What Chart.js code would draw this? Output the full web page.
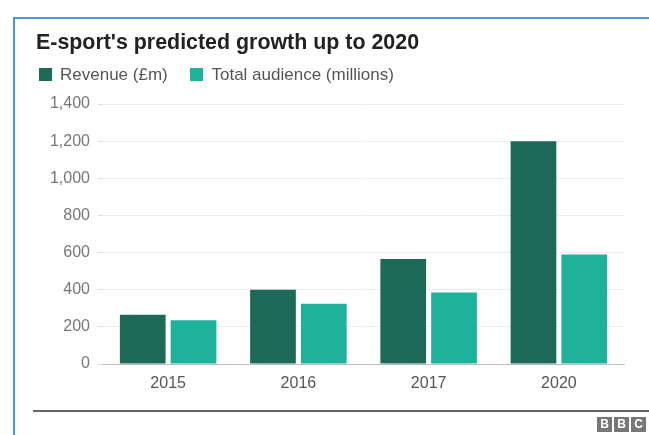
<!DOCTYPE html>
<html lang="en">
<head>
    <meta charset="UTF-8">
    <title>E-sport's predicted growth up to 2020</title>
    <script src="https://cdn.jsdelivr.net/npm/chart.js"></script>
    <style>
        html, body {
            margin: 0;
            padding: 0;
            width: 649px;
            height: 435px;
            overflow: hidden;
            background: #fff;
            font-family: 'Liberation Sans', Arial, sans-serif;
        }
        .frame {
            position: absolute;
            left: 13px;
            top: 17px;
            width: 700px;
            height: 500px;
            border-left: 2px solid #4a97d8;
            border-top: 2px solid #4a97d8;
        }
        .title {
            position: absolute;
            left: 36px;
            top: 30px;
            font-size: 21.4px;
            font-weight: bold;
            color: #222;
            white-space: nowrap;
        }
        .legend {
            position: absolute;
            left: 39px;
            top: 65px;
            font-size: 17px;
            color: #555;
            white-space: nowrap;
        }
        .legend span.box {
            display: inline-block;
            width: 13px;
            height: 13px;
            margin-right: 8px;
            vertical-align: -1px;
        }
        .legend .item { margin-right: 18px; }
        .rule {
            position: absolute;
            left: 33px;
            top: 410px;
            width: 620px;
            height: 2px;
            background: #666;
        }
        .bbc {
            position: absolute;
            left: 597px;
            top: 414px;
        }
        .bbc span {
            display: inline-block;
            width: 15px;
            height: 15px;
            margin-right: 2px;
            background: #777;
            color: #fff;
            font-size: 12px;
            font-weight: bold;
            text-align: center;
            line-height: 15px;
        }
        #chart {
            position: absolute;
            left: 0;
            top: 0;
        }
    </style>
</head>
<body>
    <div class="frame"></div>
    <canvas id="chart" width="649" height="435"></canvas>
    <div class="title">E-sport's predicted growth up to 2020</div>
    <div class="legend">
        <span class="item"><span class="box" id="box0"></span>Revenue (£m)</span>
        <span class="item"><span class="box" id="box1"></span>Total audience (millions)</span>
    </div>
    <div class="rule"></div>
    <div class="bbc"><span>B</span><span>B</span><span>C</span></div>

    <script>
        // data
        const years = ['2015', '2016', '2017', '2020'];
        const revenue = [265, 400, 565, 1200];
        const audience = [235, 325, 385, 590];
        const seriesNames = ['Revenue (£m)', 'Total audience (millions)'];
        const colours = ['#1e6a58', '#1fb29b'];

        document.getElementById('box0').style.background = colours[0];
        document.getElementById('box1').style.background = colours[1];

        new Chart(document.getElementById('chart'), {
            type: 'bar',
            data: {
                labels: years,
                datasets: [
                    { label: seriesNames[0], data: revenue, backgroundColor: colours[0] },
                    { label: seriesNames[1], data: audience, backgroundColor: colours[1] }
                ]
            },
            options: {
                responsive: false,
                animation: false,
                categoryPercentage: 0.78,
                barPercentage: 0.9,
                layout: { padding: { left: 48, right: 25, top: 104, bottom: 21 } },
                plugins: {
                    legend: { display: false },
                    tooltip: { enabled: false }
                },
                scales: {
                    x: {
                        grid: { display: false },
                        border: { color: '#bbb', width: 1 },
                        ticks: {
                            color: '#555',
                            padding: 2,
                            font: { family: 'Liberation Sans', size: 16 }
                        },
                        afterFit: s => { s.height = 50; }
                    },
                    y: {
                        min: 0,
                        max: 1400,
                        ticks: {
                            stepSize: 200,
                            color: '#777',
                            padding: 8,
                            font: { family: 'Liberation Sans', size: 16 }
                        },
                        grid: { color: '#eeeeee', tickLength: 5, tickColor: '#ddd' },
                        border: { display: false },
                        afterFit: s => { s.width = 55; }
                    }
                }
            }
        });
    </script>
</body>
</html>
